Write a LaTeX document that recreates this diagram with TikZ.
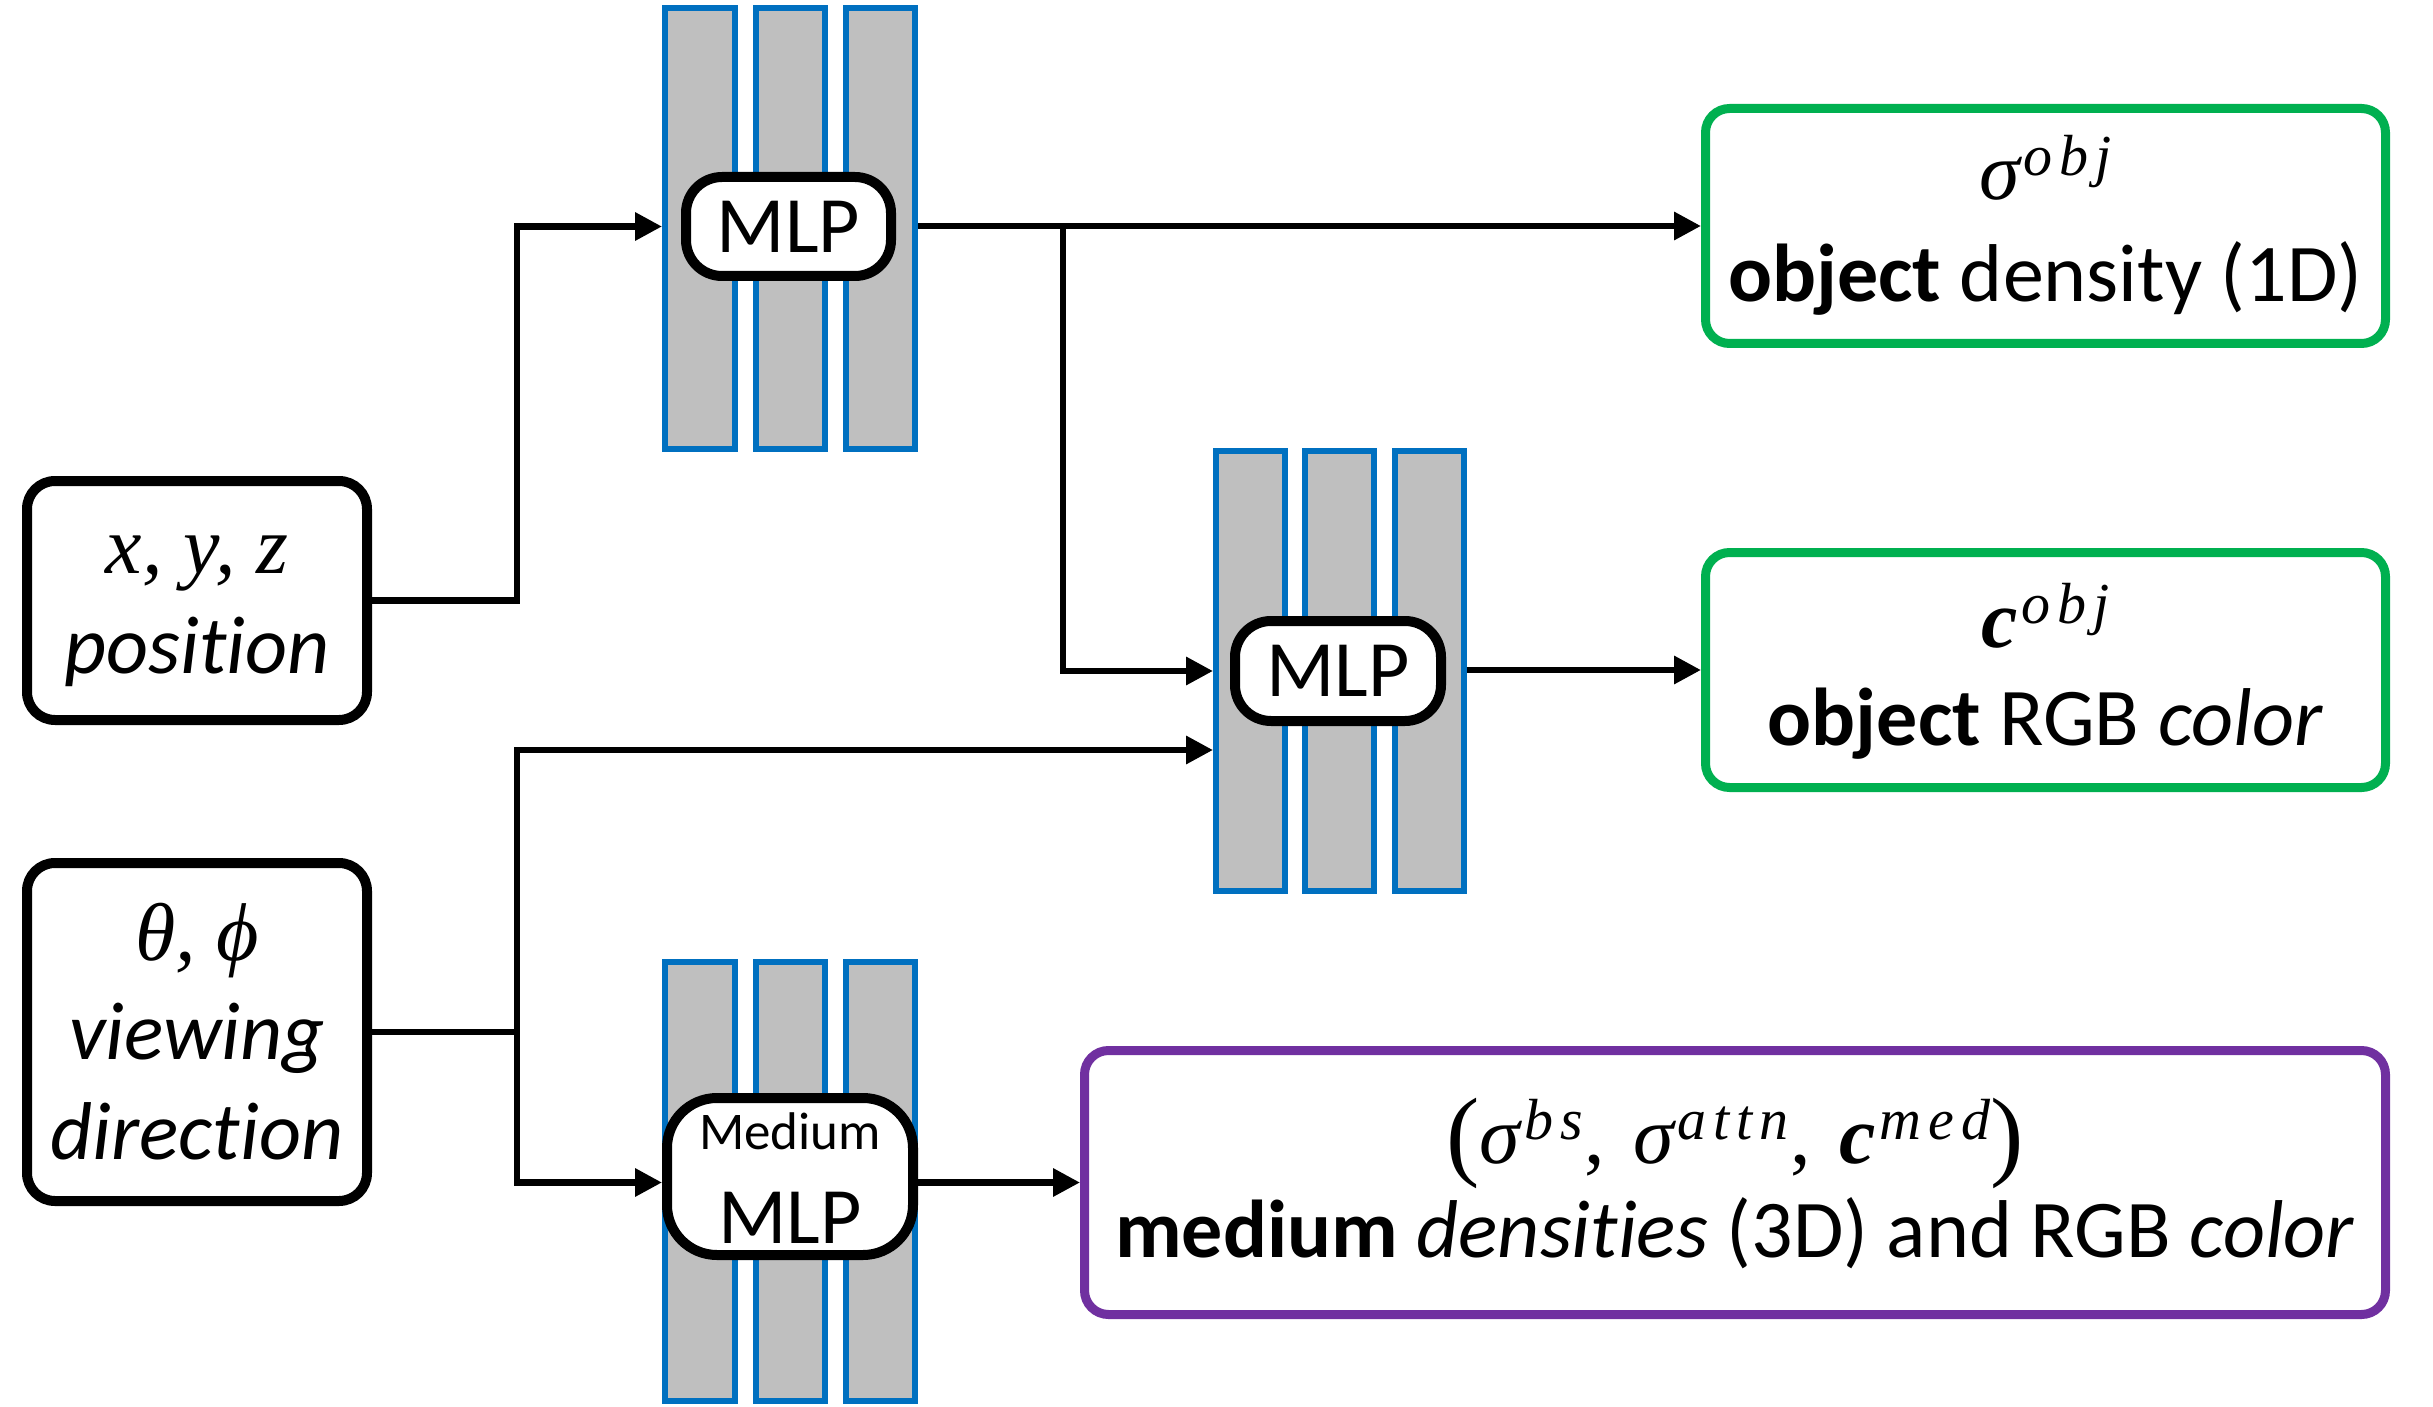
\documentclass[tikz,border=0pt]{standalone}
\usepackage{fontspec}
\setmainfont{Carlito}[Ligatures=NoCommon]
\newfontfamily\cmath{Liberation Serif}
\usetikzlibrary{arrows.meta}
\definecolor{bblue}{HTML}{0070C0}
\definecolor{ggray}{HTML}{BFBFBF}
\definecolor{ggreen}{HTML}{00B050}
\definecolor{ppurple}{HTML}{7030A0}
\newcommand\mv[1]{{\cmath\itshape #1}}
\newcommand\mvb[1]{{\cmath\bfseries\itshape #1}}
\newcommand\sps[1]{\kern2pt\raisebox{12pt}{\fontsize{29pt}{29pt}\selectfont\cmath\itshape\addfontfeature{LetterSpace=12}#1}}
\newcommand\bigp[1]{\raisebox{-2pt}{\fontsize{50pt}{50pt}\selectfont\cmath #1}}
\tikzset{
  inbox/.style={draw=black, line width=5pt, rounded corners=14pt, fill=white, minimum width=170pt, inner sep=0pt},
  outg/.style={draw=ggreen, line width=4.5pt, rounded corners=12pt, minimum width=340pt, minimum height=117.5pt, inner sep=0pt},
  outp/.style={draw=ppurple, line width=4.5pt, rounded corners=12pt, inner sep=0pt},
  bar/.style={draw=bblue, fill=ggray, line width=3pt, minimum width=34.5pt, minimum height=220.5pt, inner sep=0pt},
  mlpbox/.style={draw=black, line width=5pt, fill=white, rounded corners=18pt, inner sep=0pt},
  lbl/.style={anchor=base, inner sep=0pt, font=\fontsize{41pt}{50pt}\selectfont},
  conn/.style={line width=3.2pt},
  arr/.style={conn, -{Triangle[length=13.5pt,width=13.5pt]}},
}
\begin{document}
\begin{tikzpicture}[x=0.5pt, y=-0.5pt]
\useasboundingbox (0,0) rectangle (2433,1407);
% input boxes
\node[inbox, minimum height=119.5pt] (pos) at (197,600.5) {};
\node[inbox, minimum height=169pt] (view) at (197,1032) {};
\node[lbl] (posT1) at (197,573) {\mv{x, y, z}};
\node[lbl] (posT2) at (197,673) {\itshape position};
\node[lbl] (viewT1) at (197,960) {\mv{θ, ϕ}};
\node[lbl] (viewT2) at (197,1059) {\itshape viewing};
\node[lbl] (viewT3) at (197,1159) {\itshape direction};
% top MLP
\node[bar, minimum width=35pt] (b11) at (700,228.5) {};
\node[bar] (b12) at (790.5,228.5) {};
\node[bar] (b13) at (880.5,228.5) {};
\node[mlpbox, minimum width=102.5pt, minimum height=49.5pt, font=\fontsize{40pt}{48pt}\selectfont] (mlp1) at (788.5,226.5) {MLP};
% middle MLP
\node[bar, minimum height=220pt] (b21) at (1250.5,671) {};
\node[bar, minimum height=220pt] (b22) at (1339,671) {};
\node[bar, minimum height=220pt] (b23) at (1429,671) {};
\node[mlpbox, minimum width=103pt, minimum height=50pt, font=\fontsize{40pt}{48pt}\selectfont] (mlp2) at (1338,671) {MLP};
% medium MLP
\node[bar, minimum width=35pt, minimum height=219.5pt] (b31) at (700,1181.5) {};
\node[bar, minimum height=219.5pt] (b32) at (790.5,1181.5) {};
\node[bar, minimum height=219.5pt] (b33) at (880.5,1181.5) {};
\node[mlpbox, rounded corners=25pt, minimum width=123pt, minimum height=78.5pt] (med) at (790,1176.5) {};
\node[lbl, font=\fontsize{26.5pt}{30pt}\selectfont] (medT1) at (790,1149) {Medium};
\node[lbl, font=\fontsize{40pt}{48pt}\selectfont] (medT2) at (790,1243) {MLP};
% output boxes
\node[outg] (od) at (2045.5,226) {};
\node[lbl] (odT1) at (2045.5,200) {\mv{σ}\sps{obj}};
\node[lbl] (odT2) at (2045.5,302) {\textbf{object} density (1D)};
\node[outg] (oc) at (2045.5,670) {};
\node[lbl] (ocT1) at (2045.5,647) {\mvb{c}\sps{obj}};
\node[lbl] (ocT2) at (2045.5,745) {\textbf{object} RGB \textit{color}};
\node[outp, minimum width=650.5pt, minimum height=132pt] (mm) at (1735,1182.5) {};
\node[lbl] (mmT1) at (1735,1163) {\bigp{(}\mv{σ}\sps{bs}\kern1pt{\cmath,}\kern14pt\mv{σ}\sps{attn}\kern1pt{\cmath,}\kern14pt\mvb{c}\sps{med}\bigp{)}};
\node[lbl] (mmT2) at (1735,1257) {\textbf{medium} \textit{densities} (3D) and RGB \textit{color}};
% connectors
\coordinate (vx) at (517,0);
\coordinate (j1) at (1063,226);
\coordinate (lvl) at (1200,750);
\draw[arr] (pos.east) -- (pos.east -| vx) |- (b11.west |- mlp1.center);
\draw[arr] (b13.east |- od.west) -- (od.west);
\draw[arr] (j1) |- (b21.west |- mlp2.center);
\draw[arr] (b23.east |- oc.west) -- (oc.west);
\coordinate (j2) at (view.east -| vx);
\draw[conn] (view.east) -- (j2);
\draw[arr] (j2) |- (b21.west |- lvl);
\draw[arr] (j2) |- (b31.west |- mm.west);
\draw[arr] (b33.east |- mm.west) -- (mm.west);
\end{tikzpicture}
\end{document}
